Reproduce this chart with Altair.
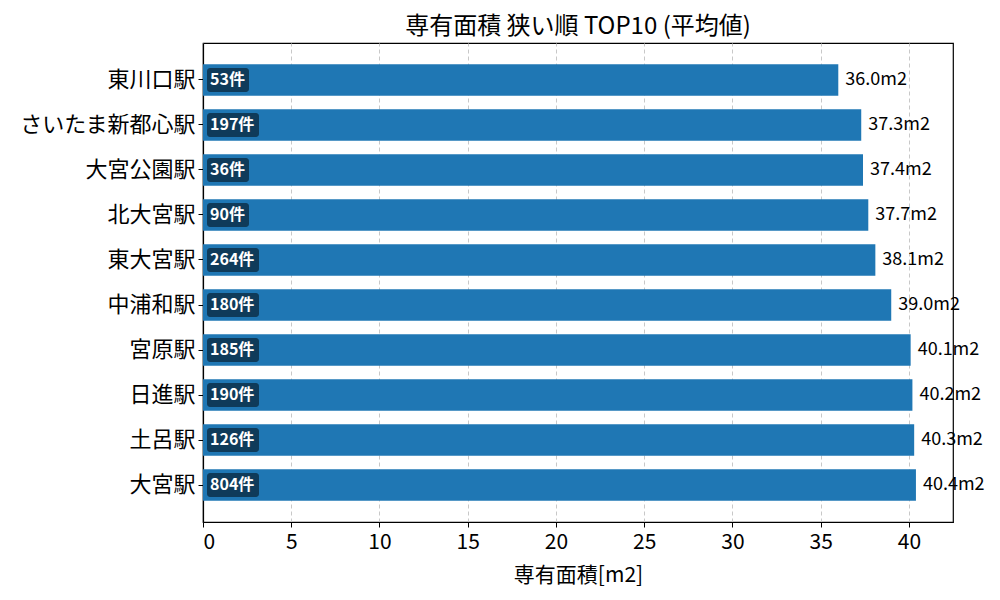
import altair as alt
import pandas as pd

# データ
stations = ["東川口駅", "さいたま新都心駅", "大宮公園駅", "北大宮駅", "東大宮駅",
            "中浦和駅", "宮原駅", "日進駅", "土呂駅", "大宮駅"]
area_mean = [36.0, 37.3, 37.4, 37.7, 38.1, 39.0, 40.1, 40.2, 40.3, 40.4]
counts = [53, 197, 36, 90, 264, 180, 185, 190, 126, 804]

FONT = "Noto Sans CJK JP"
BAR_COLOR = "#1f77b4"
PX_PER_UNIT = 750 / 42.5

df = pd.DataFrame({
    "station": stations,
    "area": area_mean,
    "count": counts,
})
df["count_label"] = df["count"].astype(str) + "件"
df["area_label"] = df["area"].map(lambda v: f"{v:.1f}m2")

y_enc = alt.Y(
    "station:N",
    sort=None,
    title=None,
    scale=alt.Scale(paddingInner=0.3, paddingOuter=0.47),
    axis=alt.Axis(labelFontSize=22, labelColor="black", tickColor="black",
                  tickSize=5, domain=True, domainColor="black", domainWidth=1.2,
                  grid=False, labelPadding=3),
)
x_enc = alt.X(
    "area:Q",
    title="専有面積[m2]",
    scale=alt.Scale(domain=[0, 42.5], nice=False, zero=True),
    axis=alt.Axis(values=list(range(0, 45, 5)), labelFontSize=21, labelColor="black",
                  titleFontSize=21, titleFontWeight="normal", titleColor="black",
                  tickColor="black", tickSize=5, domain=True, domainColor="black",
                  domainWidth=1.2, labelPadding=4,
                  grid=True, gridColor="#c8c8c8", gridDash=[4, 3], titlePadding=12),
)

base = alt.Chart(df)

bars = base.mark_bar(color=BAR_COLOR).encode(x=x_enc, y=y_enc)

values = base.mark_text(align="left", dx=7, fontSize=18, font=FONT, color="black").encode(
    x="area:Q", y=alt.Y("station:N", sort=None), text="area_label:N"
)

box_start = 4 / PX_PER_UNIT
boxes = base.transform_calculate(
    box_start=f"{box_start}",
    box_end=f"{box_start} + (22 + 10 * (length(datum.count_label) - 1)) / {PX_PER_UNIT}",
).mark_bar(size=24, color="black", opacity=0.5, cornerRadius=3).encode(
    x="box_start:Q", x2="box_end:Q", y=alt.Y("station:N", sort=None)
)

box_text = base.transform_calculate(
    box_start=f"{box_start}"
).mark_text(align="left", dx=3, fontSize=16, fontWeight="bold", font=FONT,
            color="white").encode(
    x="box_start:Q", y=alt.Y("station:N", sort=None), text="count_label:N"
)

chart = alt.layer(bars, values, boxes, box_text).properties(
    width=750,
    height=479,
    title=alt.TitleParams("専有面積 狭い順 TOP10 (平均値)", fontSize=24,
                          fontWeight="normal", color="black", offset=4),
    autosize=alt.AutoSizeParams(type="none"),
    padding={"left": 195, "top": 35, "right": 39, "bottom": 70},
).configure(
    font=FONT,
).configure_view(
    stroke="black", strokeWidth=1.2
)

chart.save("out.html", embed_options={"renderer": "svg", "actions": False})
